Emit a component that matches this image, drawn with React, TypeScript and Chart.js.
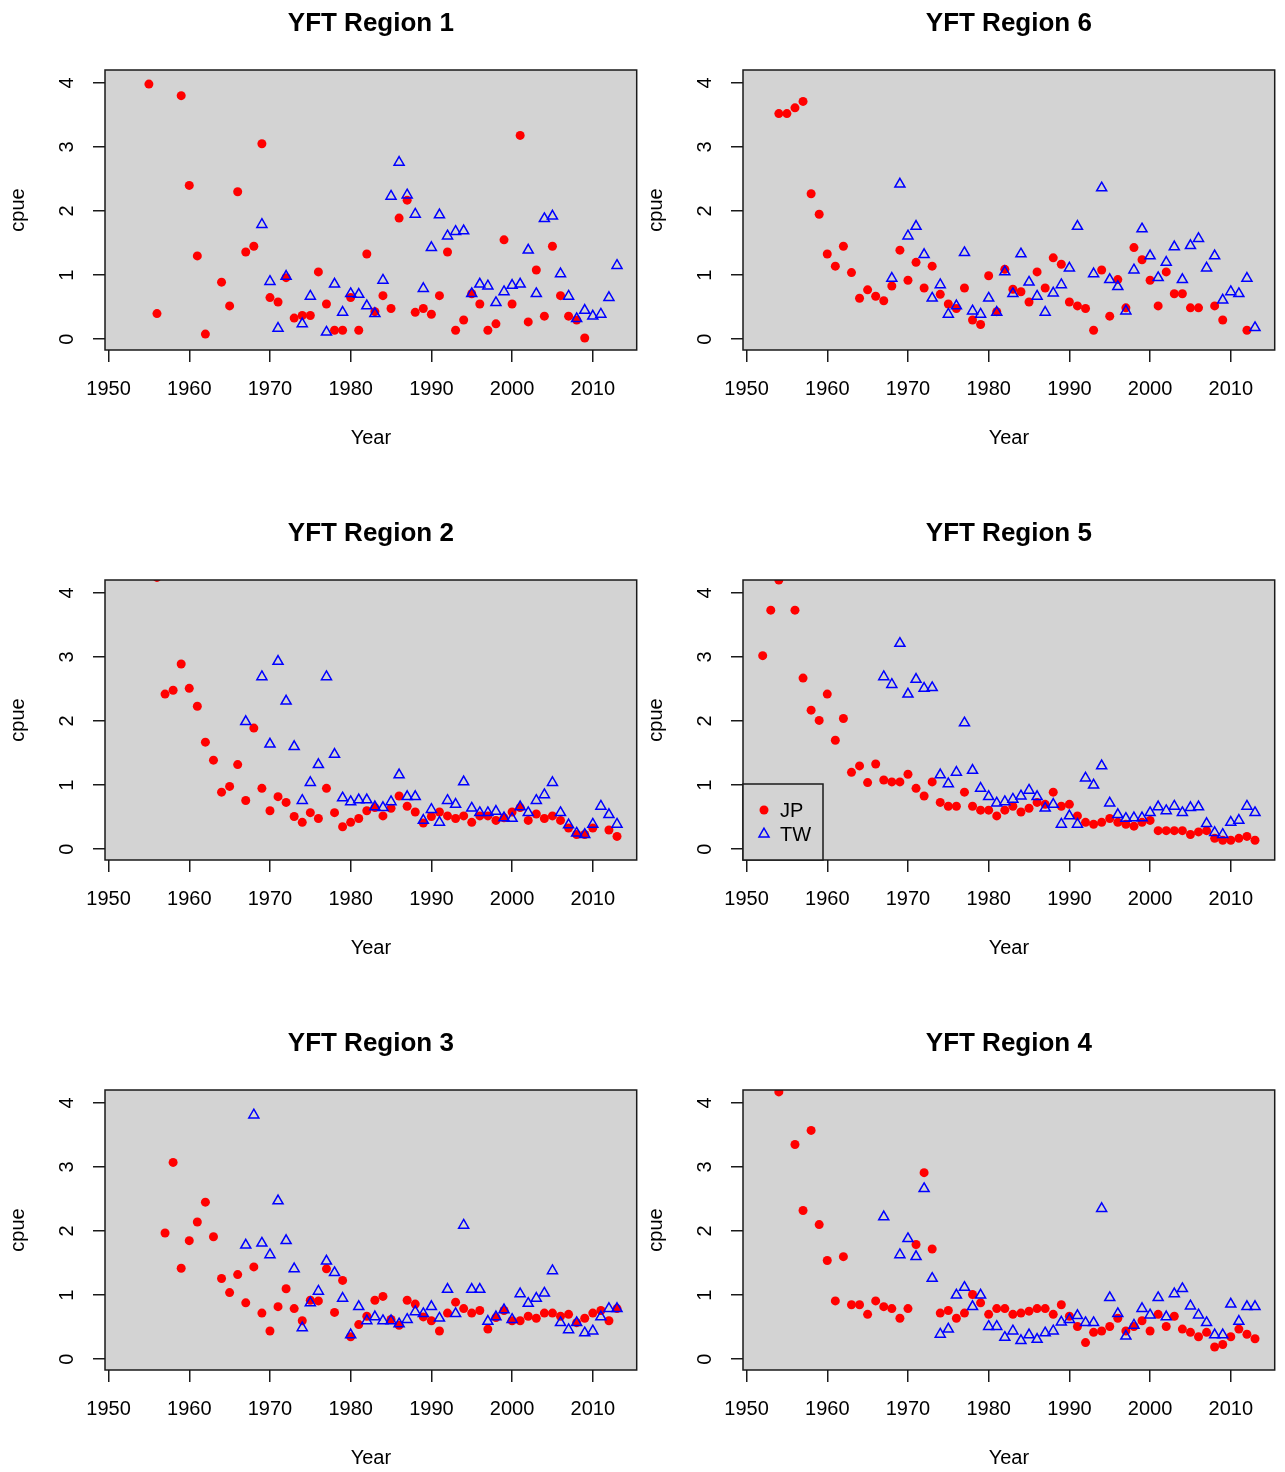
import React, { useEffect, useRef } from "react";
import { Chart, registerables } from "chart.js";

Chart.register(...registerables);

type Pair = [number, number];

const X_TICKS = [1950, 1960, 1970, 1980, 1990, 2000, 2010];
const Y_TICKS = [0, 1, 2, 3, 4];
const SERIES_NAMES = ["JP", "TW"];

const REGION1_JP: Pair[] = [
  [1955, 3.98], [1956, 0.40], [1959, 3.80], [1960, 2.40], [1961, 1.30], [1962, 0.08],
  [1964, 0.89], [1965, 0.52], [1966, 2.30], [1967, 1.36], [1968, 1.45], [1969, 3.05],
  [1970, 0.65], [1971, 0.58], [1972, 0.96], [1973, 0.33], [1974, 0.37], [1975, 0.37],
  [1976, 1.05], [1977, 0.55], [1978, 0.14], [1979, 0.14], [1980, 0.65], [1981, 0.14],
  [1982, 1.33], [1983, 0.43], [1984, 0.68], [1985, 0.48], [1986, 1.89], [1987, 2.17],
  [1988, 0.42], [1989, 0.48], [1990, 0.39], [1991, 0.68], [1992, 1.36], [1993, 0.14],
  [1994, 0.30], [1995, 0.71], [1996, 0.55], [1997, 0.14], [1998, 0.24], [1999, 1.55],
  [2000, 0.55], [2001, 3.18], [2002, 0.27], [2003, 1.08], [2004, 0.36], [2005, 1.45],
  [2006, 0.68], [2007, 0.36], [2008, 0.30], [2009, 0.02],
];
const REGION1_TW: Pair[] = [
  [1969, 1.79], [1970, 0.90], [1971, 0.17], [1972, 0.98], [1974, 0.24], [1975, 0.67],
  [1977, 0.11], [1978, 0.86], [1979, 0.42], [1980, 0.71], [1981, 0.70], [1982, 0.52],
  [1983, 0.40], [1984, 0.92], [1985, 2.23], [1986, 2.76], [1987, 2.25], [1988, 1.95],
  [1989, 0.79], [1990, 1.43], [1991, 1.94], [1992, 1.61], [1993, 1.68], [1994, 1.69],
  [1995, 0.71], [1996, 0.86], [1997, 0.83], [1998, 0.57], [1999, 0.74], [2000, 0.84],
  [2001, 0.86], [2002, 1.39], [2003, 0.71], [2004, 1.88], [2005, 1.92], [2006, 1.02],
  [2007, 0.67], [2008, 0.32], [2009, 0.45], [2010, 0.36], [2011, 0.39], [2012, 0.65],
  [2013, 1.15],
];

const REGION6_JP: Pair[] = [
  [1954, 3.52], [1955, 3.52], [1956, 3.61], [1957, 3.71], [1958, 2.27], [1959, 1.95],
  [1960, 1.33], [1961, 1.14], [1962, 1.45], [1963, 1.04], [1964, 0.64], [1965, 0.77],
  [1966, 0.67], [1967, 0.60], [1968, 0.83], [1969, 1.39], [1970, 0.92], [1971, 1.20],
  [1972, 0.80], [1973, 1.14], [1974, 0.70], [1975, 0.55], [1976, 0.48], [1977, 0.80],
  [1978, 0.30], [1979, 0.23], [1980, 0.99], [1981, 0.43], [1982, 1.09], [1983, 0.78],
  [1984, 0.74], [1985, 0.58], [1986, 1.05], [1987, 0.80], [1988, 1.27], [1989, 1.17],
  [1990, 0.58], [1991, 0.52], [1992, 0.48], [1993, 0.14], [1994, 1.08], [1995, 0.36],
  [1996, 0.93], [1997, 0.49], [1998, 1.43], [1999, 1.24], [2000, 0.92], [2001, 0.52],
  [2002, 1.05], [2003, 0.71], [2004, 0.71], [2005, 0.49], [2006, 0.49], [2008, 0.52],
  [2009, 0.30], [2012, 0.14],
];
const REGION6_TW: Pair[] = [
  [1968, 0.95], [1969, 2.42], [1970, 1.61], [1971, 1.76], [1972, 1.32], [1973, 0.64],
  [1974, 0.85], [1975, 0.39], [1976, 0.52], [1977, 1.35], [1978, 0.44], [1979, 0.39],
  [1980, 0.64], [1981, 0.42], [1982, 1.05], [1983, 0.71], [1984, 1.33], [1985, 0.89],
  [1986, 0.67], [1987, 0.42], [1988, 0.72], [1989, 0.85], [1990, 1.11], [1991, 1.76],
  [1993, 1.02], [1994, 2.36], [1995, 0.93], [1996, 0.82], [1997, 0.44], [1998, 1.08],
  [1999, 1.72], [2000, 1.30], [2001, 0.96], [2002, 1.20], [2003, 1.44], [2004, 0.93],
  [2005, 1.46], [2006, 1.57], [2007, 1.11], [2008, 1.30], [2009, 0.61], [2010, 0.74],
  [2011, 0.71], [2012, 0.95], [2013, 0.18],
];

const REGION2_JP: Pair[] = [
  [1956, 4.24], [1957, 2.42], [1958, 2.48], [1959, 2.89], [1960, 2.51], [1961, 2.23],
  [1962, 1.67], [1963, 1.39], [1964, 0.89], [1965, 0.98], [1966, 1.32], [1967, 0.76],
  [1968, 1.89], [1969, 0.95], [1970, 0.60], [1971, 0.82], [1972, 0.73], [1973, 0.51],
  [1974, 0.42], [1975, 0.57], [1976, 0.48], [1977, 0.95], [1978, 0.57], [1979, 0.35],
  [1980, 0.42], [1981, 0.48], [1982, 0.60], [1983, 0.65], [1984, 0.52], [1985, 0.64],
  [1986, 0.83], [1987, 0.67], [1988, 0.58], [1989, 0.41], [1990, 0.51], [1991, 0.58],
  [1992, 0.52], [1993, 0.48], [1994, 0.52], [1995, 0.42], [1996, 0.52], [1997, 0.52],
  [1998, 0.45], [1999, 0.49], [2000, 0.58], [2001, 0.65], [2002, 0.45], [2003, 0.55],
  [2004, 0.48], [2005, 0.52], [2006, 0.45], [2007, 0.33], [2008, 0.23], [2009, 0.23],
  [2010, 0.33], [2012, 0.30], [2013, 0.20],
];
const REGION2_TW: Pair[] = [
  [1967, 1.99], [1969, 2.69], [1970, 1.64], [1971, 2.93], [1972, 2.31], [1973, 1.60],
  [1974, 0.76], [1975, 1.04], [1976, 1.32], [1977, 2.69], [1978, 1.48], [1979, 0.80],
  [1980, 0.74], [1981, 0.77], [1982, 0.77], [1983, 0.66], [1984, 0.65], [1985, 0.74],
  [1986, 1.16], [1987, 0.82], [1988, 0.82], [1989, 0.45], [1990, 0.62], [1991, 0.42],
  [1992, 0.76], [1993, 0.70], [1994, 1.05], [1995, 0.64], [1996, 0.57], [1997, 0.57],
  [1998, 0.59], [1999, 0.49], [2000, 0.48], [2001, 0.66], [2002, 0.57], [2003, 0.76],
  [2004, 0.85], [2005, 1.04], [2006, 0.57], [2007, 0.38], [2008, 0.25], [2009, 0.23],
  [2010, 0.39], [2011, 0.67], [2012, 0.54], [2013, 0.39],
];

const REGION5_JP: Pair[] = [
  [1952, 3.02], [1953, 3.73], [1954, 4.20], [1956, 3.73], [1957, 2.67], [1958, 2.17],
  [1959, 2.01], [1960, 2.42], [1961, 1.70], [1962, 2.04], [1963, 1.20], [1964, 1.30],
  [1965, 1.04], [1966, 1.33], [1967, 1.08], [1968, 1.05], [1969, 1.05], [1970, 1.17],
  [1971, 0.95], [1972, 0.83], [1973, 1.05], [1974, 0.73], [1975, 0.67], [1976, 0.67],
  [1977, 0.89], [1978, 0.67], [1979, 0.61], [1980, 0.61], [1981, 0.52], [1982, 0.61],
  [1983, 0.67], [1984, 0.58], [1985, 0.64], [1986, 0.73], [1987, 0.70], [1988, 0.89],
  [1989, 0.67], [1990, 0.70], [1991, 0.52], [1992, 0.42], [1993, 0.39], [1994, 0.42],
  [1995, 0.48], [1996, 0.42], [1997, 0.39], [1998, 0.36], [1999, 0.42], [2000, 0.45],
  [2001, 0.29], [2002, 0.29], [2003, 0.29], [2004, 0.29], [2005, 0.23], [2006, 0.27],
  [2007, 0.29], [2008, 0.17], [2009, 0.14], [2010, 0.14], [2011, 0.17], [2012, 0.20],
  [2013, 0.14],
];
const REGION5_TW: Pair[] = [
  [1967, 2.69], [1968, 2.57], [1969, 3.21], [1970, 2.42], [1971, 2.65], [1972, 2.51],
  [1973, 2.52], [1974, 1.16], [1975, 1.02], [1976, 1.20], [1977, 1.97], [1978, 1.23],
  [1979, 0.95], [1980, 0.82], [1981, 0.72], [1982, 0.74], [1983, 0.78], [1984, 0.83],
  [1985, 0.92], [1986, 0.82], [1987, 0.64], [1988, 0.70], [1989, 0.39], [1990, 0.52],
  [1991, 0.39], [1992, 1.11], [1993, 1.00], [1994, 1.30], [1995, 0.72], [1996, 0.54],
  [1997, 0.48], [1998, 0.49], [1999, 0.49], [2000, 0.57], [2001, 0.66], [2002, 0.60],
  [2003, 0.67], [2004, 0.57], [2005, 0.65], [2006, 0.66], [2007, 0.40], [2008, 0.26],
  [2009, 0.23], [2010, 0.42], [2011, 0.45], [2012, 0.67], [2013, 0.57],
];

const REGION3_JP: Pair[] = [
  [1957, 1.97], [1958, 3.07], [1959, 1.42], [1960, 1.85], [1961, 2.14], [1962, 2.45],
  [1963, 1.91], [1964, 1.26], [1965, 1.04], [1966, 1.32], [1967, 0.88], [1968, 1.44],
  [1969, 0.72], [1970, 0.44], [1971, 0.82], [1972, 1.10], [1973, 0.79], [1974, 0.60],
  [1975, 0.92], [1976, 0.91], [1977, 1.41], [1978, 0.73], [1979, 1.23], [1980, 0.35],
  [1981, 0.54], [1982, 0.67], [1983, 0.92], [1984, 0.98], [1985, 0.62], [1986, 0.53],
  [1987, 0.92], [1988, 0.86], [1989, 0.66], [1990, 0.60], [1991, 0.44], [1992, 0.72],
  [1993, 0.89], [1994, 0.79], [1995, 0.72], [1996, 0.76], [1997, 0.47], [1998, 0.65],
  [1999, 0.76], [2000, 0.60], [2001, 0.60], [2002, 0.67], [2003, 0.64], [2004, 0.72],
  [2005, 0.72], [2006, 0.67], [2007, 0.70], [2008, 0.57], [2009, 0.64], [2010, 0.72],
  [2011, 0.76], [2012, 0.60], [2013, 0.79],
];
const REGION3_TW: Pair[] = [
  [1967, 1.78], [1968, 3.81], [1969, 1.81], [1970, 1.63], [1971, 2.47], [1972, 1.85],
  [1973, 1.41], [1974, 0.49], [1975, 0.88], [1976, 1.06], [1977, 1.53], [1978, 1.35],
  [1979, 0.95], [1980, 0.38], [1981, 0.82], [1982, 0.60], [1983, 0.66], [1984, 0.60],
  [1985, 0.60], [1986, 0.55], [1987, 0.62], [1988, 0.74], [1989, 0.71], [1990, 0.82],
  [1991, 0.64], [1992, 1.09], [1993, 0.71], [1994, 2.09], [1995, 1.09], [1996, 1.09],
  [1997, 0.59], [1998, 0.66], [1999, 0.77], [2000, 0.62], [2001, 1.02], [2002, 0.87],
  [2003, 0.95], [2004, 1.03], [2005, 1.38], [2006, 0.57], [2007, 0.46], [2008, 0.57],
  [2009, 0.41], [2010, 0.44], [2011, 0.66], [2012, 0.79], [2013, 0.79],
];

const REGION4_JP: Pair[] = [
  [1954, 4.17], [1956, 3.35], [1957, 2.32], [1958, 3.57], [1959, 2.10], [1960, 1.54],
  [1961, 0.91], [1962, 1.60], [1963, 0.85], [1964, 0.85], [1965, 0.70], [1966, 0.91],
  [1967, 0.82], [1968, 0.79], [1969, 0.64], [1970, 0.79], [1971, 1.79], [1972, 2.91],
  [1973, 1.72], [1974, 0.72], [1975, 0.76], [1976, 0.64], [1977, 0.72], [1978, 1.01],
  [1979, 0.88], [1980, 0.70], [1981, 0.79], [1982, 0.79], [1983, 0.70], [1984, 0.72],
  [1985, 0.75], [1986, 0.79], [1987, 0.79], [1988, 0.70], [1989, 0.85], [1990, 0.67],
  [1991, 0.51], [1992, 0.26], [1993, 0.42], [1994, 0.44], [1995, 0.51], [1996, 0.64],
  [1997, 0.44], [1998, 0.51], [1999, 0.60], [2000, 0.44], [2001, 0.70], [2002, 0.51],
  [2003, 0.67], [2004, 0.47], [2005, 0.42], [2006, 0.35], [2007, 0.42], [2008, 0.19],
  [2009, 0.23], [2010, 0.35], [2011, 0.47], [2012, 0.39], [2013, 0.32],
];
const REGION4_TW: Pair[] = [
  [1967, 2.22], [1969, 1.63], [1970, 1.88], [1971, 1.60], [1972, 2.66], [1973, 1.26],
  [1974, 0.39], [1975, 0.47], [1976, 1.00], [1977, 1.12], [1978, 0.82], [1979, 1.00],
  [1980, 0.51], [1981, 0.51], [1982, 0.34], [1983, 0.44], [1984, 0.29], [1985, 0.38],
  [1986, 0.31], [1987, 0.41], [1988, 0.44], [1989, 0.58], [1990, 0.62], [1991, 0.68],
  [1992, 0.57], [1993, 0.57], [1994, 2.35], [1995, 0.96], [1996, 0.71], [1997, 0.36],
  [1998, 0.53], [1999, 0.79], [2000, 0.69], [2001, 0.96], [2002, 0.66], [2003, 1.02],
  [2004, 1.10], [2005, 0.83], [2006, 0.69], [2007, 0.57], [2008, 0.38], [2009, 0.38],
  [2010, 0.86], [2011, 0.59], [2012, 0.82], [2013, 0.82],
];

const FONT = '"Liberation Sans", Arial, Helvetica, sans-serif';
const CANVAS_W = 644;
const CANVAS_H = 450;
const AXIS_COLOR = "#1a1a1a";

const decorPlugin = {
  id: "panelDecor",
  beforeDraw(chart: any) {
    const { ctx, chartArea: a } = chart;
    ctx.save();
    ctx.fillStyle = "#d3d3d3";
    ctx.fillRect(a.left, a.top, a.right - a.left, a.bottom - a.top);
    ctx.restore();
  },
  afterDatasetsDraw(chart: any, _args: any, opts: any) {
    const { ctx, chartArea: a } = chart;
    ctx.save();
    ctx.strokeStyle = AXIS_COLOR;
    ctx.lineWidth = 1.5;
    ctx.strokeRect(a.left, a.top, a.right - a.left, a.bottom - a.top);
    if (opts && opts.showLegend) {
      const w = 80;
      const h = 76;
      const x0 = a.left;
      const y0 = a.bottom - h;
      ctx.fillStyle = "#d3d3d3";
      ctx.fillRect(x0, y0, w, h);
      ctx.strokeRect(x0, y0, w, h);
      const ds = chart.data.datasets;
      const rows = [y0 + 26, y0 + 50];
      ds.forEach((d: any, i: number) => {
        const cx = x0 + 21;
        const cy = rows[i];
        if (d.pointStyle === "triangle") {
          const r = d.pointRadius;
          ctx.beginPath();
          ctx.moveTo(cx, cy - r);
          ctx.lineTo(cx - r * 0.866, cy + r * 0.5);
          ctx.lineTo(cx + r * 0.866, cy + r * 0.5);
          ctx.closePath();
          ctx.strokeStyle = d.borderColor;
          ctx.lineWidth = d.borderWidth;
          ctx.stroke();
        } else {
          ctx.beginPath();
          ctx.arc(cx, cy, d.pointRadius, 0, Math.PI * 2);
          ctx.fillStyle = d.backgroundColor;
          ctx.fill();
        }
        ctx.fillStyle = "#000";
        ctx.font = `20px ${FONT}`;
        ctx.textAlign = "left";
        ctx.textBaseline = "middle";
        ctx.fillText(d.label, x0 + 37, cy + 1);
      });
    }
    ctx.restore();
  },
};

type PanelProps = {
  title: string;
  jp: Pair[];
  tw: Pair[];
  left: number;
  top: number;
  showLegend?: boolean;
};

function Panel({ title, jp, tw, left, top, showLegend }: PanelProps) {
  const ref = useRef<HTMLCanvasElement>(null);
  useEffect(() => {
    if (!ref.current) return;
    const tickFont = { family: FONT, size: 20 };
    const chart = new Chart(ref.current, {
      type: "scatter",
      data: {
        datasets: [
          {
            label: SERIES_NAMES[0],
            data: jp.map(([x, y]) => ({ x, y })),
            pointStyle: "circle",
            pointRadius: 4.5,
            pointHoverRadius: 4.5,
            backgroundColor: "#ff0000",
            borderColor: "#ff0000",
            borderWidth: 0,
            order: 1,
            clip: 0,
          },
          {
            label: SERIES_NAMES[1],
            data: tw.map(([x, y]) => ({ x, y })),
            pointStyle: "triangle",
            pointRadius: 5.8,
            pointHoverRadius: 5.8,
            backgroundColor: "rgba(0,0,0,0)",
            borderColor: "#0000ff",
            borderWidth: 1.5,
            order: 0,
            clip: 0,
          },
        ],
      } as any,
      options: {
        responsive: false,
        animation: false,
        devicePixelRatio: 1,
        events: [],
        layout: { padding: 0 },
        plugins: {
          legend: { display: false },
          tooltip: { enabled: false },
          title: {
            display: true,
            text: title,
            fullSize: false,
            color: "#000",
            font: { family: FONT, size: 26, weight: "bold" },
            padding: { top: 8.4, bottom: 30.4 },
          },
          panelDecor: { showLegend: !!showLegend },
        } as any,
        scales: {
          x: {
            type: "linear",
            min: 1949.56,
            max: 2015.44,
            afterBuildTicks: (s: any) => {
              s.ticks = X_TICKS.map((v) => ({ value: v }));
            },
            afterFit: (s: any) => {
              s.height = 100;
            },
            ticks: {
              color: "#000",
              font: tickFont,
              padding: 15,
              minRotation: 0,
              maxRotation: 0,
              autoSkip: false,
              callback: (v: any) => String(v),
            },
            grid: {
              drawOnChartArea: false,
              drawTicks: true,
              tickLength: 12,
              color: AXIS_COLOR,
              lineWidth: 1.5,
            },
            border: { display: false },
            title: {
              display: true,
              text: "Year",
              color: "#000",
              font: tickFont,
              padding: { top: 0, bottom: 0 },
            },
          },
          y: {
            type: "linear",
            min: -0.168,
            max: 4.2,
            afterBuildTicks: (s: any) => {
              s.ticks = Y_TICKS.map((v) => ({ value: v }));
            },
            afterFit: (s: any) => {
              s.width = 105;
            },
            ticks: {
              color: "#000",
              font: tickFont,
              padding: 19.5,
              minRotation: 90,
              maxRotation: 90,
              crossAlign: "center",
              autoSkip: false,
              callback: (v: any) => String(v),
            },
            grid: {
              drawOnChartArea: false,
              drawTicks: true,
              tickLength: 12,
              color: AXIS_COLOR,
              lineWidth: 1.5,
            },
            border: { display: false },
            title: {
              display: true,
              text: "cpue",
              color: "#000",
              font: tickFont,
              padding: { top: 6, bottom: 0 },
            },
          },
        },
      } as any,
      plugins: [decorPlugin],
    });
    return () => chart.destroy();
  }, [title, jp, tw, showLegend]);
  return (
    <canvas
      ref={ref}
      width={CANVAS_W}
      height={CANVAS_H}
      style={{ position: "absolute", left, top, width: CANVAS_W, height: CANVAS_H }}
    />
  );
}

export default function App() {
  return (
    <div
      style={{
        position: "absolute",
        left: 0,
        top: 0,
        width: 1285,
        height: 1472,
        overflow: "hidden",
        background: "#ffffff",
      }}
    >
      <Panel title="YFT Region 1" jp={REGION1_JP} tw={REGION1_TW} left={0} top={0} />
      <Panel title="YFT Region 6" jp={REGION6_JP} tw={REGION6_TW} left={638} top={0} />
      <Panel title="YFT Region 2" jp={REGION2_JP} tw={REGION2_TW} left={0} top={510} />
      <Panel title="YFT Region 5" jp={REGION5_JP} tw={REGION5_TW} left={638} top={510} showLegend />
      <Panel title="YFT Region 3" jp={REGION3_JP} tw={REGION3_TW} left={0} top={1020} />
      <Panel title="YFT Region 4" jp={REGION4_JP} tw={REGION4_TW} left={638} top={1020} />
    </div>
  );
}
